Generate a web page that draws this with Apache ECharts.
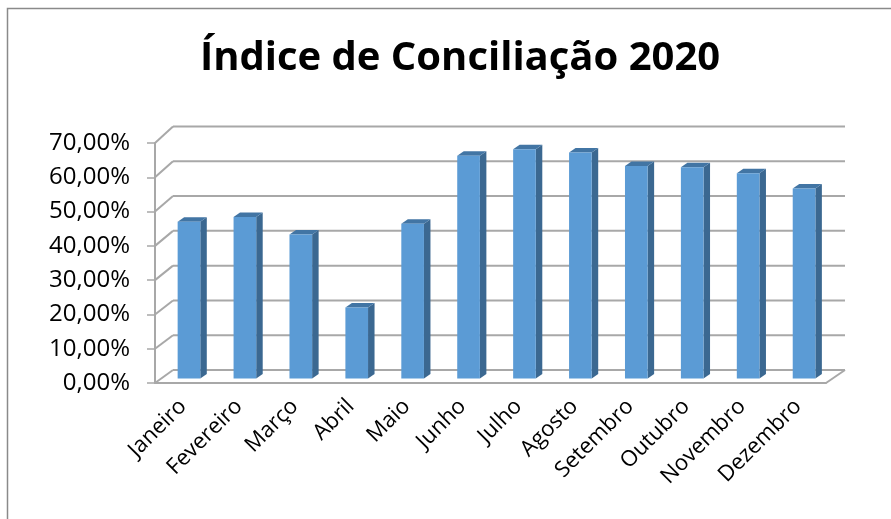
<!DOCTYPE html>
<html>
<head>
<meta charset="utf-8">
<script src="https://cdn.jsdelivr.net/npm/echarts@6/dist/echarts.min.js"></script>
<style>
  html, body { margin: 0; padding: 0; background: #fff; }
  #chart { width: 891px; height: 519px; }
</style>
</head>
<body>
<div id="chart"></div>
<script>
// dados do gráfico
const meses = ['Janeiro', 'Fevereiro', 'Março', 'Abril', 'Maio', 'Junho',
  'Julho', 'Agosto', 'Setembro', 'Outubro', 'Novembro', 'Dezembro'];
const indice = [45.7, 47.1, 42.0, 20.7, 45.1, 65.0, 66.9, 65.9, 62.0, 61.6, 59.9, 55.4];
const ticksY = [0, 10, 20, 30, 40, 50, 60, 70];

const fonte = 'Open Sans';
const cinza = '#a8a8a8';

function fmtPct(v) {
  return v.toFixed(2).replace('.', ',') + '%';
}

// parede do fundo + piso (efeito 3D do Excel)
function desenhaParede(params, api) {
  const cs = params.coordSys;
  const v = api.value(1);
  const p = api.coord([0, v]);
  const dx = 18;
  const dy = -13 - v * 0.05;
  const y = p[1];
  const children = [
    { type: 'line', shape: { x1: cs.x, y1: y, x2: cs.x + dx, y2: y + dy },
      style: { stroke: cinza, lineWidth: 2 } },
    { type: 'line', shape: { x1: cs.x + dx, y1: y + dy, x2: cs.x + cs.width + 19, y2: y + dy },
      style: { stroke: cinza, lineWidth: 2 } }
  ];
  if (v === 0) {
    children.push({ type: 'line',
      shape: { x1: cs.x + cs.width, y1: y, x2: cs.x + cs.width + 19, y2: y + dy },
      style: { stroke: cinza, lineWidth: 2 } });
  }
  return { type: 'group', children: children };
}

// barras 3D: frente, lado e topo
function desenhaBarra(params, api) {
  const i = api.value(0);
  const base = api.coord([i, 0]);
  const topo = api.coord([i, api.value(1)]);
  const band = api.size([1, 0])[0];
  const c = base[0];
  const xL = c - 0.095 * band;
  const xR = c + 0.31 * band;
  const yB = base[1] - 4.5;
  const yT = topo[1] - 4.5;
  const dx = 6.5, dy = -4.5;
  return {
    type: 'group',
    children: [
      { type: 'polygon', shape: { points: [[xR, yT], [xR + dx, yT + dy], [xR + dx, yB + dy], [xR, yB]] },
        style: { fill: '#3b6891' } },
      { type: 'polygon', shape: { points: [[xL, yT], [xL + dx, yT + dy], [xR + dx, yT + dy], [xR, yT]] },
        style: { fill: '#4275a4' } },
      { type: 'rect', shape: { x: xL, y: yT, width: xR - xL, height: yB - yT },
        style: { fill: '#5b9bd5' } }
    ]
  };
}

const chart = echarts.init(document.getElementById('chart'));
chart.setOption({
  animation: false,
  backgroundColor: '#fff',
  title: {
    text: 'Índice de Conciliação 2020',
    left: 455,
    textAlign: 'center',
    top: 34,
    textStyle: { fontFamily: fonte, fontWeight: 'bold', fontSize: 40, color: '#000' }
  },
  graphic: [{
    type: 'rect',
    shape: { x: 7.5, y: 8.5, width: 1000, height: 1000 },
    style: { fill: null, stroke: '#8a8a8a', lineWidth: 1.5 },
    silent: true
  }],
  grid: { left: 155, right: 65, top: 143, bottom: 136 },
  xAxis: {
    type: 'category',
    data: meses,
    axisLine: { lineStyle: { color: cinza, width: 2 } },
    axisTick: { length: 7, lineStyle: { color: cinza, width: 1.5 } },
    axisLabel: { rotate: 45, margin: 20, fontFamily: fonte, fontSize: 22, color: '#000', interval: 0 }
  },
  yAxis: {
    type: 'value',
    min: 0,
    max: 70,
    interval: 10,
    axisLine: { show: true, lineStyle: { color: cinza, width: 2 } },
    axisTick: { show: true, length: 8, lineStyle: { color: cinza, width: 1.5 } },
    splitLine: { show: false },
    axisLabel: { margin: 25, fontFamily: fonte, fontSize: 24, color: '#000', formatter: fmtPct }
  },
  series: [
    {
      type: 'custom',
      renderItem: desenhaParede,
      data: ticksY.map(v => [0, v]),
      silent: true,
      z: 1
    },
    {
      type: 'custom',
      renderItem: desenhaBarra,
      data: indice.map((v, i) => [i, v]),
      z: 3
    }
  ]
});
</script>
</body>
</html>
